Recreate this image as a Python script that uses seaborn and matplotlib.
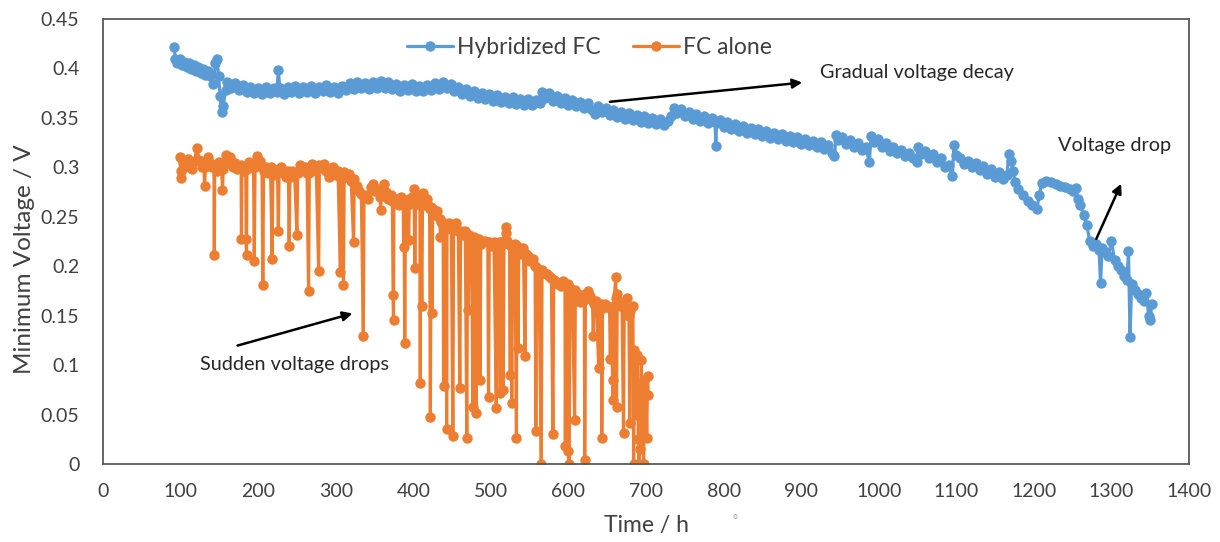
import pandas as pd
import matplotlib
matplotlib.use("Agg")
import matplotlib.pyplot as plt
import seaborn as sns

# data
hybrid_time = [92, 93, 96, 99, 102, 105, 108, 111, 114, 117, 120, 123, 126, 129, 132, 135, 138, 142, 145, 147,
               149, 151, 153, 155, 158, 160, 165, 170, 175, 180, 185, 190, 195, 200, 205, 210, 215, 220, 224, 226,
               228, 233, 238, 243, 248, 253, 258, 263, 268, 273, 278, 283, 288, 293, 298, 303, 308, 313, 318, 323,
               328, 333, 338, 343, 348, 353, 358, 363, 368, 373, 378, 383, 388, 393, 398, 403, 408, 413, 418, 423,
               428, 433, 438, 443, 448, 453, 458, 463, 468, 473, 478, 483, 488, 493, 498, 503, 508, 513, 518, 523,
               528, 533, 538, 543, 548, 553, 558, 563, 566, 570, 575, 580, 585, 590, 595, 600, 605, 610, 615, 620,
               625, 630, 634, 638, 643, 648, 653, 658, 663, 668, 673, 678, 683, 688, 693, 698, 703, 708, 713, 718,
               723, 728, 732, 736, 740, 745, 750, 755, 760, 765, 770, 775, 780, 785, 789, 790, 791, 795, 800, 805,
               810, 815, 820, 825, 830, 835, 840, 845, 850, 855, 860, 865, 870, 875, 880, 885, 890, 895, 900, 905,
               910, 915, 920, 925, 930, 935, 940, 943, 945, 948, 953, 958, 963, 968, 973, 978, 983, 988, 990, 994,
               999, 1004, 1009, 1014, 1019, 1024, 1029, 1034, 1039, 1044, 1049, 1051, 1055, 1060, 1065, 1070, 1075, 1080, 1085, 1090,
               1095, 1097, 1100, 1105, 1110, 1115, 1120, 1125, 1130, 1135, 1140, 1145, 1150, 1155, 1160, 1165, 1168, 1171, 1173, 1176,
               1180, 1186, 1192, 1198, 1204, 1207, 1210, 1216, 1222, 1228, 1234, 1240, 1246, 1251, 1254, 1257, 1260, 1264, 1268, 1272,
               1276, 1280, 1284, 1286, 1288, 1292, 1296, 1300, 1304, 1308, 1312, 1316, 1320, 1322, 1324, 1326, 1330, 1334, 1338, 1342,
               1345, 1348, 1350, 1352]
hybrid_volt = [0.422, 0.410, 0.406, 0.410, 0.403, 0.407, 0.401, 0.405, 0.399, 0.403, 0.397, 0.401, 0.395, 0.399, 0.393, 0.397, 0.392, 0.384, 0.405, 0.410,
               0.392, 0.372, 0.356, 0.362, 0.378, 0.386, 0.380, 0.385, 0.378, 0.383, 0.376, 0.381, 0.375, 0.380, 0.374, 0.381, 0.375, 0.380, 0.376, 0.398,
               0.380, 0.374, 0.381, 0.376, 0.382, 0.375, 0.381, 0.376, 0.382, 0.375, 0.381, 0.377, 0.383, 0.376, 0.381, 0.375, 0.382, 0.378, 0.385, 0.379,
               0.386, 0.380, 0.385, 0.379, 0.386, 0.380, 0.387, 0.380, 0.386, 0.379, 0.384, 0.377, 0.383, 0.378, 0.384, 0.377, 0.382, 0.377, 0.383, 0.378,
               0.385, 0.379, 0.386, 0.380, 0.384, 0.377, 0.381, 0.374, 0.379, 0.372, 0.377, 0.370, 0.375, 0.369, 0.374, 0.367, 0.373, 0.366, 0.371, 0.365,
               0.371, 0.364, 0.369, 0.363, 0.369, 0.363, 0.368, 0.365, 0.376, 0.370, 0.375, 0.367, 0.372, 0.365, 0.370, 0.363, 0.368, 0.362, 0.366, 0.360,
               0.365, 0.358, 0.354, 0.362, 0.356, 0.360, 0.353, 0.358, 0.351, 0.356, 0.349, 0.355, 0.348, 0.353, 0.346, 0.352, 0.345, 0.350, 0.344, 0.349,
               0.343, 0.347, 0.352, 0.360, 0.355, 0.359, 0.352, 0.356, 0.349, 0.354, 0.347, 0.352, 0.345, 0.350, 0.346, 0.322, 0.345, 0.348, 0.341, 0.346,
               0.339, 0.344, 0.337, 0.342, 0.335, 0.340, 0.334, 0.339, 0.332, 0.337, 0.330, 0.335, 0.329, 0.334, 0.327, 0.332, 0.326, 0.331, 0.324, 0.329,
               0.323, 0.327, 0.321, 0.326, 0.319, 0.323, 0.315, 0.311, 0.333, 0.328, 0.331, 0.324, 0.328, 0.321, 0.325, 0.318, 0.321, 0.305, 0.332, 0.326,
               0.329, 0.321, 0.325, 0.317, 0.321, 0.314, 0.318, 0.311, 0.315, 0.309, 0.305, 0.321, 0.313, 0.317, 0.309, 0.313, 0.305, 0.309, 0.300, 0.302,
               0.291, 0.323, 0.312, 0.309, 0.303, 0.306, 0.300, 0.304, 0.297, 0.301, 0.293, 0.298, 0.290, 0.295, 0.288, 0.292, 0.313, 0.306, 0.296, 0.285,
               0.278, 0.272, 0.266, 0.262, 0.258, 0.272, 0.284, 0.286, 0.285, 0.283, 0.281, 0.280, 0.278, 0.276, 0.279, 0.268, 0.262, 0.252, 0.242, 0.226,
               0.220, 0.222, 0.216, 0.183, 0.218, 0.214, 0.210, 0.226, 0.206, 0.200, 0.196, 0.190, 0.186, 0.215, 0.128, 0.182, 0.176, 0.172, 0.168, 0.165,
               0.173, 0.150, 0.146, 0.162]

alone_time = [99, 100, 101, 103, 106, 109, 112, 115, 118, 121, 124, 127, 130, 131, 132, 135, 138, 141, 143, 143.5,
              144, 147, 150, 153, 154, 155, 158, 161, 164, 167, 170, 173, 178, 178.5, 179, 182, 184, 184.5, 185, 185.5,
              188, 191, 194, 195, 196, 199, 202, 205, 206, 207, 210, 213, 216, 218, 219, 222, 225, 226, 227, 230,
              233, 236, 239, 240, 241, 244, 247, 250, 251, 254, 257, 260, 263, 265, 266, 269, 272, 275, 278, 279,
              282, 285, 288, 291, 294, 297, 300, 303, 306, 307, 309, 310, 311, 314, 317, 320, 323, 324, 327, 330,
              333, 335.6, 336.5, 339, 342, 345, 348, 351, 354, 357, 358, 359, 362, 365, 368, 371, 373, 374, 374.5, 375,
              378, 381, 384, 387, 387.5, 388, 389, 390, 393, 394, 395, 398, 401, 402, 403, 406, 408.5, 409, 409.5, 411,
              412, 415, 418, 421, 422, 423, 424, 425, 428, 431, 434, 435, 436, 438.5, 439, 439.5, 442.5, 443, 443.5, 446,
              449, 451, 452, 455, 458, 460, 461, 464, 467, 469, 470, 471, 472, 475, 477, 478, 480, 481, 482, 485,
              486, 487, 490, 493, 496, 497, 498, 501, 504, 507, 508, 511, 512, 513, 515.5, 516, 517, 519, 520, 521,
              524, 525, 525.5, 527, 528, 531, 533, 533.5, 535, 536, 539, 542, 544, 545, 548, 551, 554, 557, 558, 559,
              562, 565, 566, 569, 572, 575, 578, 580, 581, 584, 587, 590, 593, 595.5, 596, 597, 599.5, 600, 601, 602,
              605, 608, 609, 612, 615, 618, 620.5, 621, 622, 625, 628, 631, 632, 633, 636, 639, 640, 642.5, 643, 644,
              647, 650, 653, 654, 655, 657, 657.5, 658.5, 661, 661.5, 662, 663, 666, 669, 671, 672, 675, 678, 679, 680,
              683, 683.5, 684, 685, 688, 689, 690, 691, 692, 694, 695, 697, 698, 700, 701, 702, 703]
alone_volt = [0.310, 0.296, 0.289, 0.305, 0.300, 0.308, 0.303, 0.298, 0.306, 0.320, 0.307, 0.300, 0.302, 0.281, 0.300, 0.310, 0.304, 0.300, 0.302, 0.211,
              0.300, 0.296, 0.305, 0.300, 0.277, 0.298, 0.312, 0.305, 0.310, 0.300, 0.304, 0.298, 0.302, 0.228, 0.300, 0.296, 0.300, 0.228, 0.211, 0.298,
              0.305, 0.300, 0.302, 0.205, 0.300, 0.311, 0.306, 0.300, 0.181, 0.296, 0.300, 0.294, 0.300, 0.207, 0.298, 0.292, 0.296, 0.236, 0.295, 0.300,
              0.294, 0.290, 0.296, 0.220, 0.290, 0.296, 0.294, 0.232, 0.294, 0.302, 0.297, 0.300, 0.294, 0.175, 0.294, 0.303, 0.300, 0.296, 0.195, 0.302,
              0.299, 0.303, 0.296, 0.290, 0.295, 0.300, 0.292, 0.296, 0.194, 0.288, 0.292, 0.181, 0.295, 0.290, 0.293, 0.286, 0.224, 0.288, 0.281, 0.276,
              0.273, 0.129, 0.270, 0.272, 0.268, 0.280, 0.283, 0.276, 0.278, 0.270, 0.257, 0.275, 0.283, 0.275, 0.268, 0.272, 0.266, 0.171, 0.146, 0.265,
              0.268, 0.262, 0.270, 0.266, 0.219, 0.266, 0.122, 0.265, 0.262, 0.227, 0.268, 0.270, 0.278, 0.198, 0.266, 0.270, 0.262, 0.082, 0.264, 0.160,
              0.274, 0.262, 0.268, 0.258, 0.048, 0.260, 0.153, 0.258, 0.252, 0.256, 0.248, 0.230, 0.245, 0.242, 0.079, 0.244, 0.240, 0.035, 0.240, 0.244,
              0.238, 0.028, 0.238, 0.244, 0.236, 0.077, 0.236, 0.232, 0.236, 0.026, 0.232, 0.156, 0.232, 0.228, 0.058, 0.230, 0.228, 0.052, 0.226, 0.228,
              0.085, 0.222, 0.225, 0.226, 0.224, 0.068, 0.224, 0.220, 0.224, 0.057, 0.222, 0.224, 0.072, 0.225, 0.222, 0.075, 0.226, 0.234, 0.240, 0.226,
              0.222, 0.090, 0.220, 0.062, 0.218, 0.222, 0.026, 0.220, 0.117, 0.216, 0.212, 0.218, 0.109, 0.212, 0.210, 0.205, 0.207, 0.200, 0.033, 0.198,
              0.196, 0.000, 0.196, 0.193, 0.192, 0.190, 0.188, 0.030, 0.186, 0.184, 0.182, 0.180, 0.185, 0.182, 0.018, 0.180, 0.182, 0.013, 0.000, 0.178,
              0.176, 0.045, 0.176, 0.172, 0.164, 0.168, 0.166, 0.004, 0.172, 0.175, 0.170, 0.166, 0.129, 0.162, 0.165, 0.097, 0.160, 0.162, 0.026, 0.158,
              0.162, 0.160, 0.158, 0.106, 0.158, 0.085, 0.065, 0.160, 0.189, 0.168, 0.058, 0.172, 0.160, 0.164, 0.031, 0.160, 0.168, 0.150, 0.041, 0.155,
              0.160, 0.109, 0.000, 0.115, 0.050, 0.110, 0.025, 0.000, 0.015, 0.105, 0.060, 0.000, 0.085, 0.070, 0.026, 0.089, 0.070]

series_names = ["Hybridized FC", "FC alone"]
colors = {"Hybridized FC": "#5B9BD5", "FC alone": "#ED7D31"}

df = pd.concat([
    pd.DataFrame({"time": hybrid_time, "volt": hybrid_volt, "series": series_names[0]}),
    pd.DataFrame({"time": alone_time, "volt": alone_volt, "series": series_names[1]}),
], ignore_index=True)

sns.set_style("white")
plt.rcParams["font.family"] = ["Lato", "DejaVu Sans"]

fig = plt.figure(figsize=(12.2, 5.42), dpi=100)
ax = fig.add_axes([103 / 1220, 78 / 542, 1086 / 1220, 445 / 542])

sns.lineplot(data=df, x="time", y="volt", hue="series", palette=colors, estimator=None, sort=False,
             marker="o", markersize=7.5, markeredgewidth=0, linewidth=2.3, ax=ax)

ax.set_xlim(0, 1400)
ax.set_ylim(0, 0.45)
ax.set_xticks(range(0, 1401, 100))
ax.set_yticks([0, 0.05, 0.1, 0.15, 0.2, 0.25, 0.3, 0.35, 0.4, 0.45])
ax.set_yticklabels(["0", "0.05", "0.1", "0.15", "0.2", "0.25", "0.3", "0.35", "0.4", "0.45"])
ax.tick_params(axis="both", direction="out", length=5, width=1, color="#595959",
               labelsize=14, labelcolor="#404040")
ax.tick_params(axis="x", pad=9)
ax.tick_params(axis="y", pad=12)
for side in ["left", "bottom", "top", "right"]:
    ax.spines[side].set_color("#595959")
    ax.spines[side].set_linewidth(1.3)
    ax.spines[side].set_visible(True)

ax.set_xlabel("Time / h", fontsize=16.5, color="#404040")
ax.set_ylabel("Minimum Voltage / V", fontsize=17.5, color="#404040")
ax.xaxis.set_label_coords(0.5, -0.115)
ax.yaxis.set_label_coords(-0.063, 0.46)

handles, labels = ax.get_legend_handles_labels()
ax.legend(handles, labels, loc="center", bbox_to_anchor=(0.448, 0.935), ncol=2, frameon=False,
          fontsize=16.5, labelcolor="#404040", handlelength=2.0, handletextpad=0.2, columnspacing=1.4)

arrow = dict(arrowstyle="-|>", color="black", lw=1.8, mutation_scale=14)
ax.annotate("", xy=(905, 0.386), xytext=(650, 0.366), arrowprops=arrow)
ax.text(924, 0.396, "Gradual voltage decay", fontsize=14.3, color="#262626", va="center")
ax.annotate("", xy=(1314, 0.286), xytext=(1279, 0.225), arrowprops=arrow)
ax.text(1231, 0.322, "Voltage drop", fontsize=14.3, color="#262626", va="center")
ax.annotate("", xy=(325, 0.153), xytext=(170, 0.119), arrowprops=arrow)
ax.text(125, 0.1005, "Sudden voltage drops", fontsize=14.3, color="#262626", va="center")

fig.text(735 / 1220, 1 - 520 / 542, "°", fontsize=9, color="#9f9fc0", ha="center", va="center")

plt.savefig("out.png", dpi=100)
plt.close()
